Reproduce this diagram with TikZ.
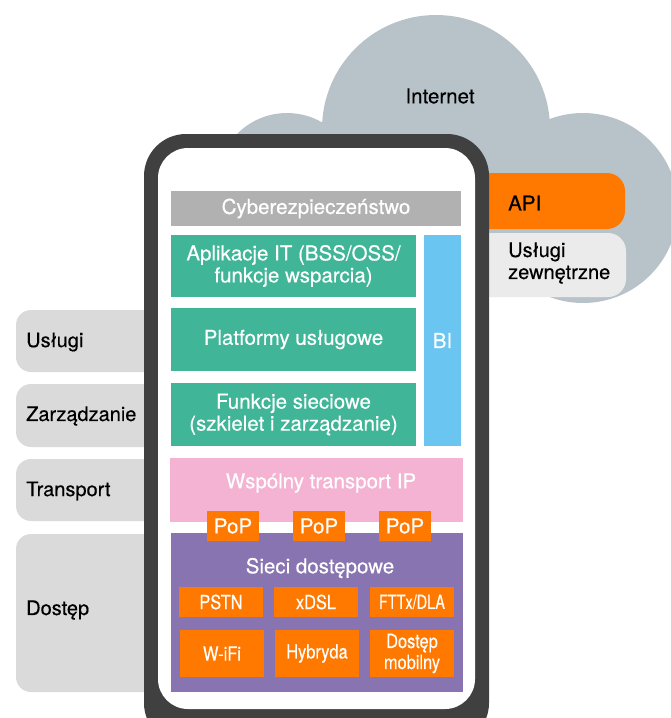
\documentclass[tikz,border=0pt]{standalone}
\usepackage{fontspec}
\setmainfont[FakeBold=0.35]{TeX Gyre Heros}
\newfontfamily\condfont[FakeStretch=0.84,FakeBold=0.35]{TeX Gyre Heros}
\newfontfamily\xcondfont[FakeStretch=0.74,FakeBold=0.35]{TeX Gyre Heros}
\definecolor{cloudc}{HTML}{B8C3C9}
\definecolor{framec}{HTML}{404040}
\definecolor{cyberc}{HTML}{B1B1B1}
\definecolor{tealc}{HTML}{40B597}
\definecolor{bic}{HTML}{6AC6F0}
\definecolor{pinkc}{HTML}{F4B3D3}
\definecolor{purplec}{HTML}{8874B0}
\definecolor{orangec}{HTML}{FF7800}
\definecolor{labelc}{HTML}{DADADA}
\definecolor{extc}{HTML}{EBEBEB}
\newcommand\mainfs{\fontsize{20.5}{22}\selectfont}
\newcommand\sidefs{\fontsize{20}{22}\selectfont}
\newcommand\condfs{\condfont\fontsize{19.5}{21}\selectfont}
\newcommand\xcondfs{\xcondfont\fontsize{19.5}{21}\selectfont}
\begin{document}
\begin{tikzpicture}[x=1pt,y=-1pt,
  box/.style={inner sep=0pt,outer sep=0pt,anchor=north west,align=center,font=\mainfs,text=white},
  obox/.style={box,fill=orangec,font=\condfs},
  side/.style={fill=labelc,rounded corners=15pt},
  sidetext/.style={anchor=west,inner sep=0pt,font=\sidefs,text=black},
  dtext/.style={inner sep=0pt,font=\sidefs,text=black,align=left}]
\useasboundingbox (0,0) rectangle (671,718);
\clip (0,0) rectangle (671,718);
% cloud
\fill[cloudc] (436,129) circle (114pt);
\fill[cloudc] (287,183) circle (70pt);
\fill[cloudc] (583,208) circle (95pt);
\fill[cloudc] (287,140) rectangle (583,296);
\node[dtext,font=\mainfs] (internet) at (440,96) {Internet};
% API and external services
\fill[orangec,rounded corners=18pt] (440,173) rectangle (625,229);
\fill[extc,rounded corners=18pt] (440,233) rectangle (626,297);
\node[dtext,anchor=west,font=\mainfs] (api) at (508,203) {API};
\node[dtext,anchor=west] (ext) at (508,263) {Usługi\\zewnętrzne};
% side labels
\fill[side] (16,310) rectangle (186,372);
\fill[side] (16,384) rectangle (186,447);
\fill[side] (16,459) rectangle (186,521);
\fill[side] (16,534) rectangle (186,692);
\node[sidetext] (uslugi) at (26,342) {Usługi};
\node[sidetext] (zarz) at (26,416) {Zarządzanie};
\node[sidetext] (transp) at (26,491) {Transport};
\node[sidetext] (dostep) at (26,610) {Dostęp};
% phone frame
\fill[framec,rounded corners=42pt] (144,134) rectangle (489,745);
\fill[white,rounded corners=30pt] (158,148) rectangle (475,709);
% inner boxes
\node[box,fill=cyberc,minimum width=290pt,minimum height=35pt] (cyber) at (171,191) {Cyberezpieczeństwo};
\node[box,fill=tealc,minimum width=245pt,minimum height=62pt] (apps) at (171,235) {Aplikacje IT (BSS/OSS/\\funkcje wsparcia)};
\node[box,fill=bic,minimum width=37pt,minimum height=211pt] (bi) at (424,235) {BI};
\node[box,fill=tealc,minimum width=245pt,minimum height=63pt] (plat) at (171,308) {Platformy usługowe};
\node[box,fill=tealc,minimum width=245pt,minimum height=63pt] (funk) at (171,383) {Funkcje sieciowe\\(szkielet i zarządzanie)};
\node[box,fill=pinkc,minimum width=293pt,minimum height=64pt] (pink) at (170,458) {};
\node[inner sep=0pt,font=\mainfs,text=white] (wtip) at (321,483) {Wspólny transport IP};
\node[box,fill=purplec,minimum width=292pt,minimum height=159pt] (access) at (171,533) {};
\node[inner sep=0pt,font=\mainfs,text=white] (sieci) at (320,568) {Sieci dostępowe};
\node[box,fill=orangec,minimum width=52pt,minimum height=30pt] (pop1) at (207,511) {PoP};
\node[box,fill=orangec,minimum width=52pt,minimum height=30pt] (pop2) at (293,511) {PoP};
\node[box,fill=orangec,minimum width=52pt,minimum height=30pt] (pop3) at (379,511) {PoP};
\node[obox,minimum width=84pt,minimum height=30pt] (pstn) at (179,587) {PSTN};
\node[obox,minimum width=84pt,minimum height=30pt] (xdsl) at (274,587) {xDSL};
\node[obox,font=\xcondfs,minimum width=84pt,minimum height=30pt] (ftt) at (370,587) {FTTx/DLA};
\node[obox,minimum width=84pt,minimum height=47pt] (wifi) at (180,630) {W-iFi};
\node[obox,minimum width=84pt,minimum height=47pt] (hyb) at (275,630) {Hybryda};
\node[obox,minimum width=84pt,minimum height=47pt] (mob) at (370,630) {Dostęp\\mobilny};
\end{tikzpicture}
\end{document}
